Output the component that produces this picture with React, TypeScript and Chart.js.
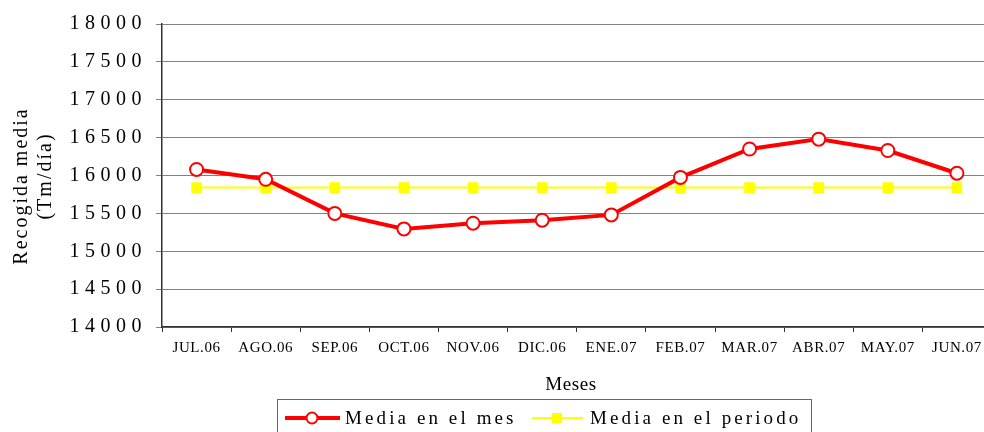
import { useEffect, useRef } from 'react';
import { Chart, registerables } from 'chart.js';

Chart.register(...registerables);

const categories = ['JUL.06', 'AGO.06', 'SEP.06', 'OCT.06', 'NOV.06', 'DIC.06', 'ENE.07', 'FEB.07', 'MAR.07', 'ABR.07', 'MAY.07', 'JUN.07'];
const mediaMes = [16080, 15950, 15500, 15295, 15370, 15410, 15480, 15975, 16350, 16480, 16330, 16030];
const mediaPeriodo = [15840, 15840, 15840, 15840, 15840, 15840, 15840, 15840, 15840, 15840, 15840, 15840];
const yMin = 14000;
const yMax = 18000;
const yStep = 500;
const seriesNames = ['Media en el mes', 'Media en el periodo'];
const yTitle = ['Recogida media', '(Tm/día)'];
const xTitle = 'Meses';

const FONT = '"Liberation Serif", "Times New Roman", serif';

const spacingPlugin = {
  id: 'labelSpacing',
  beforeDraw(chart: any) {
    const wrap = (scale: any, sp: string) => {
      if (!scale || scale.__wrapped) return;
      const orig = scale.drawLabels.bind(scale);
      scale.drawLabels = (area: any) => {
        const ctx = scale.ctx;
        ctx.save();
        ctx.letterSpacing = sp;
        orig(area);
        ctx.restore();
      };
      scale.__wrapped = true;
    };
    wrap(chart.scales.x, '0.6px');
    wrap(chart.scales.y, '5.5px');
  },
};

const decorPlugin = {
  id: 'decor',
  afterDraw(chart: any) {
    const ctx = chart.ctx;
    ctx.save();
    ctx.fillStyle = '#000';
    ctx.font = `20px ${FONT}`;
    ctx.textAlign = 'center';
    ctx.textBaseline = 'alphabetic';
    ctx.letterSpacing = '2px';
    // y title (two lines, rotated)
    ctx.save();
    ctx.translate(26.5, 186);
    ctx.rotate(-Math.PI / 2);
    ctx.fillText(yTitle[0], 0, 0);
    ctx.restore();
    ctx.save();
    ctx.translate(50.5, 176);
    ctx.rotate(-Math.PI / 2);
    ctx.fillText(yTitle[1], 0, 0);
    ctx.restore();
    // x title
    ctx.font = `19px ${FONT}`;
    ctx.letterSpacing = '0.6px';
    ctx.fillText(xTitle, 571, 390);

    // legend box
    ctx.strokeStyle = '#666';
    ctx.lineWidth = 1;
    ctx.strokeRect(277.5, 399.5, 534, 45);
    // red item
    const ly = 418;
    ctx.strokeStyle = '#ff0000';
    ctx.lineWidth = 4;
    ctx.beginPath();
    ctx.moveTo(285, ly);
    ctx.lineTo(340, ly);
    ctx.stroke();
    ctx.beginPath();
    ctx.arc(312, ly, 5.5, 0, Math.PI * 2);
    ctx.fillStyle = '#fff';
    ctx.fill();
    ctx.lineWidth = 2;
    ctx.stroke();
    // yellow item
    ctx.strokeStyle = '#ffff00';
    ctx.lineWidth = 2;
    ctx.beginPath();
    ctx.moveTo(532, ly);
    ctx.lineTo(583, ly);
    ctx.stroke();
    ctx.fillStyle = '#ffff00';
    ctx.fillRect(552, ly - 5, 10, 10);
    // texts
    ctx.fillStyle = '#000';
    ctx.textAlign = 'left';
    ctx.letterSpacing = '3.1px';
    ctx.fillText(seriesNames[0], 345, 424);
    ctx.fillText(seriesNames[1], 590, 424);
    ctx.restore();
  },
};

export default function App() {
  const ref = useRef<HTMLCanvasElement | null>(null);
  useEffect(() => {
    if (!ref.current) return;
    const chart = new Chart(ref.current, {
      type: 'line',
      data: {
        labels: categories,
        datasets: [
          {
            label: seriesNames[0],
            data: mediaMes,
            borderColor: '#ff0000',
            borderWidth: 4,
            backgroundColor: '#ffffff',
            pointBackgroundColor: '#ffffff',
            pointBorderColor: '#ff0000',
            pointBorderWidth: 2,
            pointRadius: 6.5,
            pointStyle: 'circle',
            tension: 0,
            order: 1,
          },
          {
            label: seriesNames[1],
            data: mediaPeriodo,
            borderColor: '#ffff00',
            borderWidth: 2,
            backgroundColor: '#ffff00',
            pointBackgroundColor: '#ffff00',
            pointBorderColor: '#ffff00',
            pointBorderWidth: 0,
            pointRadius: 7.5,
            pointStyle: 'rect',
            tension: 0,
            order: 2,
          },
        ],
      },
      options: {
        responsive: false,
        animation: false,
        devicePixelRatio: 1,
        layout: { padding: { left: 0, top: 24, right: 7, bottom: 0 } },
        plugins: {
          legend: { display: false },
          tooltip: { enabled: false },
          title: { display: false },
        },
        scales: {
          x: {
            offset: true,
            afterFit: (s: any) => {
              s.height = 105;
            },
            grid: {
              display: true,
              drawOnChartArea: false,
              drawTicks: true,
              tickLength: 5,
              offset: true,
              color: '#333',
            },
            border: { display: true, color: '#333', width: 1.5 },
            ticks: {
              color: '#000',
              font: { family: FONT, size: 15 },
              padding: 7,
              maxRotation: 0,
              autoSkip: false,
            },
          },
          y: {
            min: yMin,
            max: yMax,
            afterFit: (s: any) => {
              s.width = 162;
            },
            grid: {
              color: '#808080',
              tickLength: 6,
              lineWidth: 1,
            },
            border: { display: true, color: '#333', width: 1.5 },
            ticks: {
              stepSize: yStep,
              color: '#000',
              font: { family: FONT, size: 20 },
              padding: 9,
              callback: (v: any) => String(v),
            },
          },
        },
      },
      plugins: [spacingPlugin, decorPlugin],
    });
    return () => chart.destroy();
  }, []);
  return (
    <div style={{ position: 'absolute', left: 0, top: 0, width: 984, height: 432, overflow: 'hidden', background: '#fff' }}>
      <canvas ref={ref} width={1000} height={432} style={{ display: 'block', width: 1000, height: 432 }} />
    </div>
  );
}
